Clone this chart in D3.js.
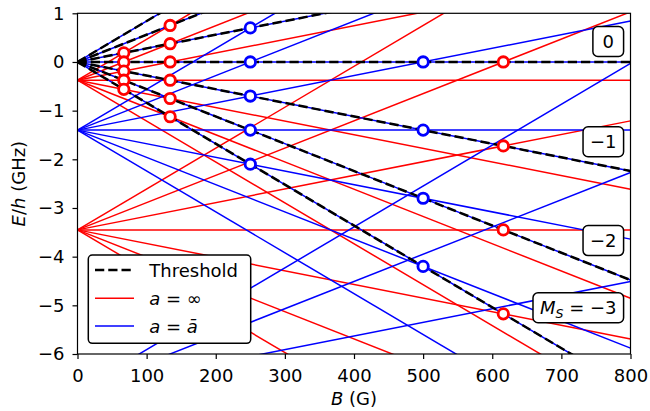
<!DOCTYPE html>
<html>
<head>
<meta charset="utf-8">
<script src="https://cdn.jsdelivr.net/npm/d3@7"></script>
<style>
  body { margin: 0; background: #fff; }
  text { font-family: "DejaVu Sans", sans-serif; }
</style>
</head>
<body>
<script>
// spin projections and the Zeeman shift per unit of M (GHz per G)
var zeemanM = [-3, -2, -1, 0, 1, 2, 3];
var slopePerM = 0.0028;

// energies at B = 0 (GHz)
var thresholdE0 = [0];
var redE0 = [-0.375, -3.45];      // a = inf
var blueE0 = [0, -1.4, -6.75];    // a = abar

// open circles, [B, E]
var redMarkers = [
  [67, 0.1875], [67, 0], [67, -0.1875], [67, -0.375], [67, -0.5625],
  [134, 0.75], [134, 0.375], [134, 0], [134, -0.375], [134, -0.75], [134, -1.125],
  [616, 0], [616, -1.725], [616, -3.45], [616, -5.175]
];
var blueMarkers = [
  [250, 0.7], [250, 0], [250, -0.7], [250, -1.4], [250, -2.1],
  [500, 0], [500, -1.4], [500, -2.8], [500, -4.2]
];

var xTicks = [0, 100, 200, 300, 400, 500, 600, 700, 800];
var yTicks = [1, 0, -1, -2, -3, -4, -5, -6];

var msLabels = ["0", "\u22121", "\u22122", "MS"];
var msLabelE = [0.42, -1.64, -3.67, -5.05];

var W = 650, H = 411;
var fs = 18;

var svg = d3.select("body").append("svg")
            .attr("width", W)
            .attr("height", H);

var x = d3.scaleLinear().domain([0, 800]).range([77.5, 630.5]);
var y = d3.scaleLinear().domain([-6, 1]).range([354, 13.3]);

svg.append("clipPath").attr("id", "plotclip")
   .append("rect")
   .attr("x", x(0)).attr("y", y(1))
   .attr("width", x(800) - x(0)).attr("height", y(-6) - y(1));

function levelLines(offsets, color) {
  var out = [];
  offsets.forEach(function (e0) {
    zeemanM.forEach(function (m) {
      out.push({ e0: e0, m: m, color: color });
    });
  });
  return out;
}

var plot = svg.append("g").attr("clip-path", "url(#plotclip)");

function drawLines(data, cls) {
  return plot.selectAll("line." + cls)
    .data(data)
    .enter()
    .append("line")
    .attr("class", cls)
    .attr("x1", function (d) { return x(0); })
    .attr("y1", function (d) { return y(d.e0); })
    .attr("x2", function (d) { return x(800); })
    .attr("y2", function (d) { return y(d.e0 + d.m * slopePerM * 800); })
    .attr("stroke", function (d) { return d.color; });
}

drawLines(levelLines(redE0, "#ff0000"), "red").attr("stroke-width", 1.5);
drawLines(levelLines(blueE0, "#0000ff"), "blue").attr("stroke-width", 1.5);
drawLines(levelLines(thresholdE0, "#000"), "thr")
  .attr("stroke-width", 2.5)
  .attr("stroke-dasharray", "9.25,4");

// frame and axes
svg.append("rect")
   .attr("x", x(0)).attr("y", y(1))
   .attr("width", x(800) - x(0)).attr("height", y(-6) - y(1))
   .attr("fill", "none").attr("stroke", "#000").attr("stroke-width", 1.2);

var intFmt = d3.format("d");
var xAxis = svg.append("g")
   .attr("transform", "translate(0," + y(-6) + ")")
   .call(d3.axisBottom(x).tickValues(xTicks).tickFormat(intFmt)
           .tickSize(5).tickPadding(10).tickSizeOuter(0));
var yAxis = svg.append("g")
   .attr("transform", "translate(" + x(0) + ",0)")
   .call(d3.axisLeft(y).tickValues(yTicks).tickFormat(intFmt)
           .tickSize(5).tickPadding(8).tickSizeOuter(0));

[xAxis, yAxis].forEach(function (g) {
  g.select(".domain").remove();
  g.selectAll(".tick line").attr("stroke", "#000").attr("stroke-width", 1.2);
  g.selectAll(".tick text")
   .attr("fill", "#000")
   .style("font-family", "DejaVu Sans")
   .style("font-size", fs + "px");
});

// markers
function drawMarkers(data, cls, color) {
  svg.selectAll("circle." + cls)
     .data(data)
     .enter().append("circle")
     .attr("class", cls)
     .attr("cx", function (d) { return x(d[0]); })
     .attr("cy", function (d) { return y(d[1]); })
     .attr("r", 5.2)
     .attr("fill", "#fff")
     .attr("stroke", color)
     .attr("stroke-width", 2.8);
}
drawMarkers(redMarkers, "rm", "#ff0000");
drawMarkers(blueMarkers, "bm", "#0000ff");

// axis labels
var xl = svg.append("text")
   .attr("x", x(400)).attr("y", 405)
   .attr("text-anchor", "middle")
   .style("font-size", fs + "px");
xl.append("tspan").style("font-style", "italic").text("B");
xl.append("tspan").text(" (G)");

var yl = svg.append("text")
   .attr("transform", "translate(25," + ((y(1) + y(-6)) / 2) + ") rotate(-90)")
   .attr("text-anchor", "middle")
   .style("font-size", fs + "px");
yl.append("tspan").style("font-style", "italic").text("E");
yl.append("tspan").text("/");
yl.append("tspan").style("font-style", "italic").text("h");
yl.append("tspan").text(" (GHz)");

// M_S boxes
var boxRight = x(790);
msLabels.forEach(function (lab, i) {
  var cy = y(msLabelE[i]);
  var g = svg.append("g");
  var box = g.append("rect");
  var t = g.append("text")
     .attr("y", cy + 6.5)
     .attr("text-anchor", "middle")
     .style("font-size", fs + "px");
  if (lab === "MS") {
    t.append("tspan").style("font-style", "italic").text("M");
    t.append("tspan").style("font-style", "italic").style("font-size", (fs * 0.7) + "px")
     .attr("dy", 4).text("S");
    t.append("tspan").attr("dy", -4).text(" = \u22123");
  } else {
    t.text(lab);
  }
  var tw = t.node().getComputedTextLength();
  var bw = Math.max(tw + 14, 30.7);
  t.attr("x", boxRight - bw / 2);
  box.attr("x", boxRight - bw).attr("y", cy - 15)
     .attr("width", bw).attr("height", 30)
     .attr("rx", 5).attr("ry", 5)
     .attr("fill", "#fff").attr("stroke", "#000").attr("stroke-width", 1.5);
});

// legend
var leg = svg.append("g");
leg.append("rect")
   .attr("x", 88.3).attr("y", 255)
   .attr("width", 162.4).attr("height", 88.3)
   .attr("rx", 4).attr("ry", 4)
   .attr("fill", "#fff").attr("stroke", "#000").attr("stroke-width", 1.5);
var legRows = [
  { y: 270, color: "#000", w: 2.5, dash: "9.25,4" },
  { y: 298.3, color: "#ff0000", w: 1.5, dash: null },
  { y: 326, color: "#0000ff", w: 1.5, dash: null }
];
legRows.forEach(function (r, i) {
  leg.append("line")
     .attr("x1", 95).attr("x2", 134)
     .attr("y1", r.y).attr("y2", r.y)
     .attr("stroke", r.color).attr("stroke-width", r.w)
     .attr("stroke-dasharray", r.dash);
  var t = leg.append("text")
     .attr("x", 149.3).attr("y", r.y + 6.5)
     .style("font-size", fs + "px");
  if (i === 0) {
    t.text("Threshold");
  } else if (i === 1) {
    t.append("tspan").style("font-style", "italic").text("a");
    t.append("tspan").text(" = \u221e");
  } else {
    t.append("tspan").style("font-style", "italic").text("a");
    t.append("tspan").text(" = ");
    t.append("tspan").style("font-style", "italic").text("\u0101");
  }
});
</script>
</body>
</html>
